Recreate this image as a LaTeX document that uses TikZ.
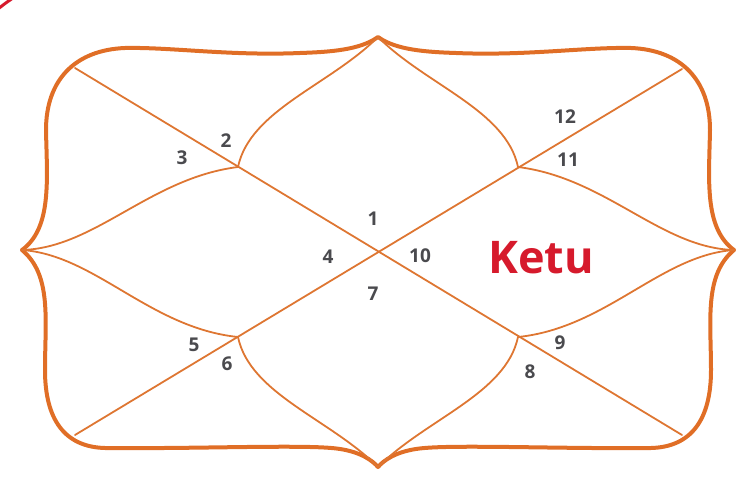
\documentclass[tikz,border=0pt]{standalone}
\usepackage{fontspec}
\setmainfont{Open Sans}
\definecolor{frameorange}{RGB}{224,110,38}
\definecolor{lineorange}{RGB}{222,118,50}
\definecolor{numgray}{RGB}{74,74,78}
\definecolor{ketured}{RGB}{214,26,44}
\tikzset{
  frame/.style={draw=frameorange, line width=4pt, line join=round, line cap=round},
  inner/.style={draw=lineorange, line width=1.8pt, line cap=round},
  num/.style={text=numgray, font=\fontsize{19}{19}\selectfont\bfseries, inner sep=0pt},
  planet/.style={text=ketured, font=\fontsize{45}{45}\selectfont\bfseries, inner sep=0pt, anchor=base},
}
\begin{document}
\begin{tikzpicture}[x=1pt,y=-1pt]
\useasboundingbox (0,0) rectangle (750,500);
% key points
\coordinate (T) at (378,37);
\coordinate (B) at (378,467);
\coordinate (L) at (22,250);
\coordinate (R) at (734,250);
\coordinate (TL) at (75,68);
\coordinate (TR) at (682,69);
\coordinate (BL) at (75,435);
\coordinate (BR) at (682,435);
\coordinate (UL) at (238,167);
\coordinate (UR) at (518,167);
\coordinate (LL) at (238,337);
\coordinate (LR) at (518,337);
% stray red arc at the corner
\begin{scope}
\clip (0,0) rectangle (750,500);
\draw[ketured, line width=3pt] (-2,9) .. controls (3,5) and (7,2) .. (13,-2);
\end{scope}
% outer frame
\path[frame] (T)
  .. controls (360,50) and (330,52) .. (300,53)
  .. controls (230,56) and (170,47) .. (125,48)
  .. controls (75,50) and (46,80) .. (46,130)
  .. controls (47,180) and (52,228) .. (L)
  .. controls (52,275) and (45,320) .. (45,370)
  .. controls (45,420) and (65,447) .. (105,448)
  .. controls (200,449) and (310,444) .. (340,449)
  .. controls (360,452) and (372,460) .. (B)
  .. controls (384,460) and (396,452) .. (416,449)
  .. controls (446,444) and (556,449) .. (651,448)
  .. controls (691,447) and (711,420) .. (711,370)
  .. controls (711,320) and (704,275) .. (R)
  .. controls (704,228) and (709,180) .. (710,130)
  .. controls (710,80) and (681,50) .. (631,48)
  .. controls (586,47) and (526,56) .. (456,53)
  .. controls (426,52) and (396,50) .. (T) -- cycle;
% diagonals
\path[inner] (TL) -- (BR);
\path[inner] (TR) -- (BL);
% petals
\path[inner] (UL) .. controls (250,110) and (330,85) .. (T);
\path[inner] (UR) .. controls (506,110) and (426,85) .. (T);
\path[inner] (LL) .. controls (250,394) and (330,419) .. (B);
\path[inner] (LR) .. controls (506,394) and (426,419) .. (B);
\path[inner] (L) .. controls (95,248) and (150,178) .. (UL);
\path[inner] (L) .. controls (95,255) and (150,328) .. (LL);
\path[inner] (R) .. controls (661,248) and (606,178) .. (UR);
\path[inner] (R) .. controls (661,255) and (606,328) .. (LR);
% house numbers
\node[num] (n1) at (373,219) {1};
\node[num] (n2) at (226,141) {2};
\node[num] (n3) at (182,158) {3};
\node[num] (n4) at (328,257) {4};
\node[num] (n5) at (194,345) {5};
\node[num] (n6) at (227,364) {6};
\node[num] (n7) at (373,294) {7};
\node[num] (n8) at (530,372) {8};
\node[num] (n9) at (560,343) {9};
\node[num] (n10) at (420,256) {10};
\node[num] (n11) at (568,160) {11};
\node[num] (n12) at (565,117) {12};
\node[planet] (ketu) at (541,273) {Ketu};
\end{tikzpicture}
\end{document}
